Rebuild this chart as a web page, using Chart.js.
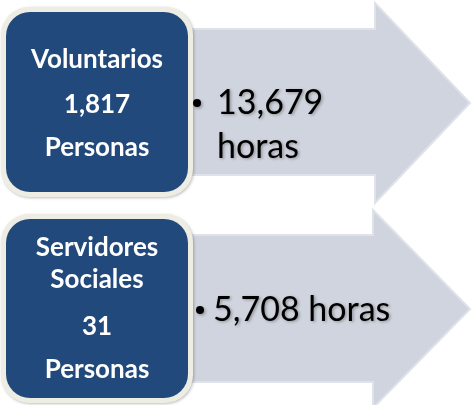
<!DOCTYPE html>
<html>
<head>
<meta charset="utf-8">
<script src="https://cdn.jsdelivr.net/npm/chart.js@4.4.0/dist/chart.umd.min.js"></script>
<style>
	html, body { margin: 0; padding: 0; background: #fff; overflow: hidden; }
</style>
</head>
<body>
<canvas id="diagrama" width="472" height="405"></canvas>
<script>
// Dados do diagrama
var grupos = ["Voluntarios", "Servidores Sociales"];
var linhasGrupo = [["Voluntarios"], ["Servidores", "Sociales"]];
var personas = [1817, 31];
var horas = [13679, 5708];
var quebraHoras = [true, false]; // "horas" vai na linha de baixo?

var corCaixa = "#22497c";
var corBorda = "#eeede3";
var corSeta = "#d0d4de";
var corSetaBorda = "#dfe2e9";

// Layout de cada bloco (em unidades da escala 0..472 / 0..405)
var blocos = [
	{ top: 7, bottom: 197, corpoTop: 29, corpoBottom: 175, cabecaTop: 3, cabecaBottom: 203, cabecaX: 375, ponta: 470,
	  linhasY: [60, 105, 148], horasY: [103, 147], bolinhaX: 197, textoX: 217 },
	{ top: 214, bottom: 403, corpoTop: 235, corpoBottom: 382, cabecaTop: 210, cabecaBottom: 408, cabecaX: 373, ponta: 470,
	  linhasY: [248, 280, 327, 370], horasY: [310], bolinhaX: 200, textoX: 213 },
];

function fmt(n) {
	return n.toLocaleString("en-US");
}

var pluginDiagrama = {
	id: "diagrama",
	afterDraw: function (chart) {
		var ctx = chart.ctx;
		var sx = chart.scales.x;
		var sy = chart.scales.y;
		var X = (v) => sx.getPixelForValue(v);
		var Y = (v) => sy.getPixelForValue(v);

		for (var i = 0; i < grupos.length; i++) {
			var b = blocos[i];
			var meio = (b.cabecaTop + b.cabecaBottom) / 2;

			// Seta
			ctx.save();
			ctx.beginPath();
			ctx.moveTo(X(150), Y(b.corpoTop));
			ctx.lineTo(X(b.cabecaX), Y(b.corpoTop));
			ctx.lineTo(X(b.cabecaX), Y(b.cabecaTop));
			ctx.lineTo(X(b.ponta), Y(meio));
			ctx.lineTo(X(b.cabecaX), Y(b.cabecaBottom));
			ctx.lineTo(X(b.cabecaX), Y(b.corpoBottom));
			ctx.lineTo(X(150), Y(b.corpoBottom));
			ctx.closePath();
			ctx.fillStyle = corSeta;
			ctx.fill();
			ctx.strokeStyle = corSetaBorda;
			ctx.lineWidth = 2;
			ctx.stroke();
			ctx.restore();

			// Caixa
			ctx.save();
			ctx.shadowColor = "rgba(0,0,0,0.25)";
			ctx.shadowBlur = 3;
			ctx.shadowOffsetX = 1;
			ctx.shadowOffsetY = 1;
			ctx.beginPath();
			ctx.roundRect(X(1), Y(b.top), X(193) - X(1), Y(b.bottom) - Y(b.top), 28);
			ctx.fillStyle = corBorda;
			ctx.fill();
			ctx.restore();

			ctx.beginPath();
			ctx.roundRect(X(6), Y(b.top + 5), X(188) - X(6), Y(b.bottom - 5) - Y(b.top + 5), 24);
			ctx.fillStyle = corCaixa;
			ctx.fill();

			// Texto da caixa
			var linhas = linhasGrupo[i].concat([fmt(personas[i]), "Personas"]);
			ctx.fillStyle = "#ffffff";
			ctx.font = "bold 26px Lato";
			ctx.textAlign = "center";
			ctx.textBaseline = "middle";
			for (var j = 0; j < linhas.length; j++) {
				ctx.fillText(linhas[j], X(97), Y(b.linhasY[j]));
			}

			// Texto da seta
			var linhasH = quebraHoras[i] ? [fmt(horas[i]), "horas"] : [fmt(horas[i]) + " horas"];
			ctx.save();
			ctx.shadowColor = "rgba(0,0,0,0.3)";
			ctx.shadowBlur = 3;
			ctx.shadowOffsetX = 1.5;
			ctx.shadowOffsetY = 1.5;
			ctx.fillStyle = "#000000";
			ctx.beginPath();
			ctx.arc(X(b.bolinhaX), Y(b.horasY[0]), 4, 0, Math.PI * 2);
			ctx.fill();
			ctx.font = "34px Lato";
			ctx.textAlign = "left";
			ctx.textBaseline = "middle";
			for (var j = 0; j < linhasH.length; j++) {
				ctx.fillText(linhasH[j], X(b.textoX), Y(b.horasY[j]));
			}
			ctx.restore();
		}
	},
};

new Chart(document.getElementById("diagrama"), {
	type: "scatter",
	data: { datasets: [{ data: [] }] },
	options: {
		responsive: false,
		animation: false,
		layout: { padding: 0 },
		plugins: { legend: { display: false }, tooltip: { enabled: false } },
		scales: {
			x: { type: "linear", min: 0, max: 472, display: false },
			y: { type: "linear", min: 0, max: 405, reverse: true, display: false },
		},
	},
	plugins: [pluginDiagrama],
});
</script>
</body>
</html>
